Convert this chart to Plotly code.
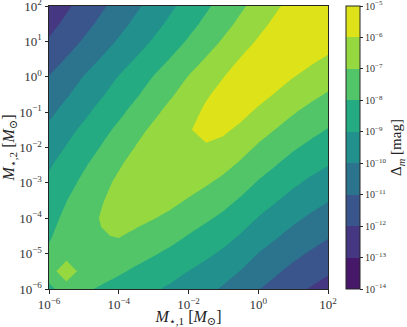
import plotly.graph_objects as go

# grid exponents: log10(M / M_sun), half-decade steps
log_m1 = [-6.0, -5.5, -5.0, -4.5, -4.0, -3.5, -3.0, -2.5, -2.0,
          -1.5, -1.0, -0.5, 0.0, 0.5, 1.0, 1.5, 2.0]
log_m2 = [-6.0, -5.5, -5.0, -4.5, -4.0, -3.5, -3.0, -2.5, -2.0,
          -1.5, -1.0, -0.5, 0.0, 0.5, 1.0, 1.5, 2.0]

# log10(Delta_m / mag), one row per M2 (from 1e-6 up to 1e2), columns follow M1
dm_m2_6p0 = [-8.15, -7.7, -7.86, -8.11, -8.36, -8.63, -8.89, -9.16, -9.48, -9.79, -10.11, -10.51, -10.96, -11.34, -11.73, -12.06, -12.36]
dm_m2_5p5 = [-7.7, -6.05, -7.6, -7.63, -7.88, -8.15, -8.41, -8.68, -9.01, -9.31, -9.63, -10.03, -10.48, -10.86, -11.25, -11.58, -11.88]
dm_m2_5p0 = [-7.85, -7.6, -7.35, -7.2, -7.4, -7.67, -7.93, -8.2, -8.52, -8.83, -9.15, -9.55, -10.02, -10.38, -10.77, -11.1, -11.4]
dm_m2_4p5 = [-8.1, -7.6, -7.2, -7.05, -6.95, -7.19, -7.45, -7.72, -8.04, -8.35, -8.67, -9.07, -9.52, -9.9, -10.29, -10.62, -10.92]
dm_m2_4p0 = [-8.3, -7.8, -7.3, -6.95, -6.85, -6.75, -6.97, -7.24, -7.56, -7.87, -8.19, -8.59, -9.04, -9.42, -9.81, -10.14, -10.44]
dm_m2_3p5 = [-8.5, -8.02, -7.5, -7.05, -6.75, -6.65, -6.55, -6.76, -7.08, -7.39, -7.71, -8.11, -8.56, -8.94, -9.33, -9.66, -9.96]
dm_m2_3p0 = [-8.8, -8.3, -7.8, -7.3, -6.8, -6.55, -6.45, -6.35, -6.6, -6.91, -7.23, -7.63, -8.08, -8.46, -8.85, -9.18, -9.48]
dm_m2_2p5 = [-9.1, -8.6, -8.1, -7.6, -7.1, -6.6, -6.35, -6.25, -6.17, -6.43, -6.75, -7.15, -7.6, -7.98, -8.37, -8.7, -8.98]
dm_m2_2p0 = [-9.45, -8.95, -8.45, -7.95, -7.45, -6.95, -6.45, -6.17, -6.1, -6.03, -6.27, -6.67, -7.12, -7.5, -7.89, -8.22, -8.52]
dm_m2_1p5 = [-9.8, -9.3, -8.8, -8.3, -7.8, -7.3, -6.8, -6.3, -6.02, -5.92, -5.85, -6.19, -6.64, -7.02, -7.41, -7.74, -8.04]
dm_m2_1p0 = [-10.2, -9.7, -9.2, -8.7, -8.2, -7.7, -7.2, -6.7, -6.3, -5.85, -5.8, -5.75, -6.16, -6.54, -6.93, -7.26, -7.56]
dm_m2_0p5 = [-10.6, -10.1, -9.6, -9.1, -8.6, -8.1, -7.6, -7.1, -6.6, -6.1, -5.75, -5.7, -5.68, -6.06, -6.45, -6.78, -7.08]
dm_m2_0 = [-10.97, -10.47, -9.97, -9.47, -8.97, -8.47, -7.97, -7.47, -6.97, -6.47, -6.02, -5.65, -5.6, -5.58, -5.97, -6.3, -6.6]
dm_m2_p0p5 = [-11.45, -10.95, -10.45, -9.95, -9.45, -8.95, -8.45, -7.95, -7.45, -6.95, -6.45, -5.95, -5.55, -5.5, -5.49, -5.82, -6.12]
dm_m2_p1p0 = [-11.9, -11.4, -10.9, -10.4, -9.9, -9.4, -8.9, -8.4, -7.9, -7.4, -6.9, -6.4, -5.9, -5.45, -5.4, -5.35, -5.64]
dm_m2_p1p5 = [-12.3, -11.8, -11.3, -10.8, -10.3, -9.8, -9.3, -8.8, -8.3, -7.8, -7.3, -6.8, -6.3, -5.8, -5.35, -5.3, -5.25]
dm_m2_p2p0 = [-12.65, -12.15, -11.65, -11.15, -10.65, -10.15, -9.65, -9.15, -8.65, -8.15, -7.65, -7.15, -6.65, -6.15, -5.65, -5.25, -5.2]

dm_grid = [dm_m2_6p0, dm_m2_5p5, dm_m2_5p0, dm_m2_4p5, dm_m2_4p0, dm_m2_3p5,
           dm_m2_3p0, dm_m2_2p5, dm_m2_2p0, dm_m2_1p5, dm_m2_1p0, dm_m2_0p5,
           dm_m2_0, dm_m2_p0p5, dm_m2_p1p0, dm_m2_p1p5, dm_m2_p2p0]

axis_exps = [-6, -5, -4, -3, -2, -1, 0, 1, 2]
x_label_exps = [-6, -4, -2, 0, 2]
cbar_exps = [-14, -13, -12, -11, -10, -9, -8, -7, -6, -5]

# viridis sampled at the middle of each of the nine bands
band_colors = ["#471769", "#453781", "#39558c", "#2c738e", "#22908c",
               "#25ab82", "#52c569", "#95d840", "#dde318"]

n = len(band_colors)
colorscale = []
for i, c in enumerate(band_colors):
    colorscale.append([i / n, c])
    colorscale.append([(i + 1) / n, c])


def sup(e):
    return "10<sup>" + str(e).replace("-", "\u2212") + "</sup>"


m1 = [10 ** e for e in log_m1]
m2 = [10 ** e for e in log_m2]

font = "Liberation Serif, DejaVu Serif, serif"

fig = go.Figure()
fig.add_trace(go.Contour(
    x=m1, y=m2, z=dm_grid,
    zmin=-14, zmax=-5,
    autocontour=False,
    contours=dict(start=-14, end=-5, size=1, coloring="fill", showlines=False),
    line=dict(width=0, smoothing=0),
    colorscale=colorscale,
    colorbar=dict(
        x=1.064, xanchor="left", xpad=0,
        y=0.5, yanchor="middle", len=1, ypad=0,
        thickness=14,
        outlinewidth=1, outlinecolor="#262626",
        tickmode="array",
        tickvals=cbar_exps,
        ticktext=[sup(e) for e in cbar_exps],
        ticks="outside", ticklen=3, tickcolor="#262626",
        ticklabeloverflow="allow",
        tickfont=dict(family=font, size=10, color="#333"),
        title=dict(text="\u0394<sub><i>m</i></sub> [mag]", side="right",
                   font=dict(family=font, size=15, color="#222")),
    ),
))

fig.update_xaxes(
    type="log", range=[-6, 2],
    tickmode="array",
    tickvals=[10 ** e for e in x_label_exps],
    ticktext=[sup(e) for e in x_label_exps],
    ticks="outside", ticklen=3.5, tickcolor="#262626",
    ticklabeloverflow="allow",
    tickfont=dict(family=font, size=13, color="#333"),
    showline=True, mirror=True, linecolor="#262626", linewidth=1,
    showgrid=False, zeroline=False, automargin=False,
    title=dict(text="<i>M</i><sub>\u22c6,1</sub> [<i>M</i><sub>\u2299</sub>]",
               font=dict(family=font, size=16, color="#222"), standoff=0),
)
fig.update_yaxes(
    type="log", range=[-6, 2],
    tickmode="array",
    tickvals=[10 ** e for e in axis_exps],
    ticktext=[sup(e) for e in axis_exps],
    ticks="outside", ticklen=3.5, tickcolor="#262626",
    ticklabeloverflow="allow",
    tickfont=dict(family=font, size=13, color="#333"),
    showline=True, mirror=True, linecolor="#262626", linewidth=1,
    showgrid=False, zeroline=False, automargin=False,
    title=dict(text="<i>M</i><sub>\u22c6,2</sub> [<i>M</i><sub>\u2299</sub>]",
               font=dict(family=font, size=16, color="#222"), standoff=0),
)

fig.update_layout(
    width=407, height=327,
    margin=dict(l=49, r=79, t=6, b=38, autoexpand=False),
    paper_bgcolor="white", plot_bgcolor="white",
    font=dict(family=font),
    showlegend=False,
)

fig.write_html("out.html", config={"displayModeBar": False},
               post_script="document.body.style.margin='0';")
